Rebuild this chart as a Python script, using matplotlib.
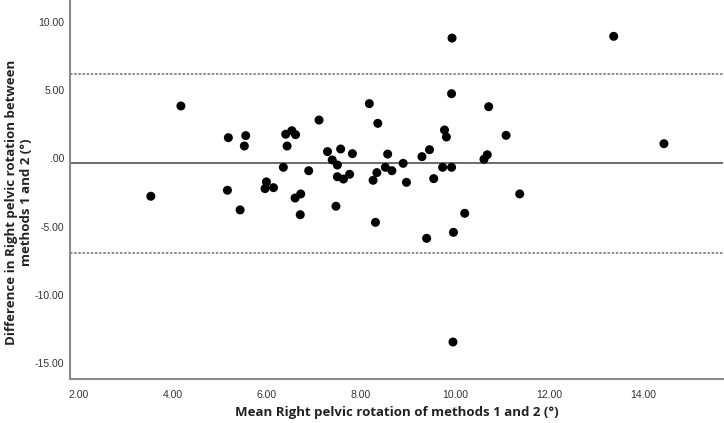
import matplotlib

matplotlib.use("Agg")
import matplotlib.pyplot as plt
from matplotlib.ticker import FuncFormatter

# Bland-Altman data
mean_vals = [3.53, 4.17, 5.16, 5.18, 5.43, 5.52, 5.55, 5.99, 5.96, 6.14,
             6.35, 6.40, 6.43, 6.53, 6.61, 6.60, 6.72, 6.71, 6.89, 7.11,
             7.29, 7.39, 7.50, 7.57, 7.50, 7.63, 7.76, 7.82, 7.47, 8.18,
             8.36, 8.26, 8.34, 8.31, 8.57, 8.52, 8.66, 8.90, 8.97, 9.30,
             9.46, 9.55, 9.74, 9.78, 9.82, 9.93, 9.93, 9.94, 9.40, 9.97,
             10.21, 10.62, 10.69, 10.72, 11.09, 11.38, 13.38, 14.45, 9.96]
diff_vals = [-2.78, 3.83, -2.34, 1.51, -3.78, 0.90, 1.66, -1.73, -2.22, -2.15,
             -0.66, 1.76, 0.90, 2.02, 1.73, -2.91, -2.61, -4.13, -0.91, 2.80,
             0.49, -0.12, -0.49, 0.68, -1.35, -1.52, -1.17, 0.34, -3.51, 4.00,
             2.56, -1.61, -1.05, -4.69, 0.31, -0.66, -0.91, -0.37, -1.76, 0.12,
             0.63, -1.49, -0.66, 2.07, 1.56, -0.66, 4.73, 8.80, -5.86, -5.42,
             -4.03, -0.07, 0.26, 3.78, 1.68, -2.61, 8.93, 1.07, -13.45]

mean_diff = -0.34
upper_loa = 6.20
lower_loa = -6.97

x_ticks = [2, 4, 6, 8, 10, 12, 14]
y_ticks = [-15, -10, -5, 0, 5, 10]


def spss_fmt(v, _pos):
    s = f"{v:.2f}"
    if s in ("0.00", "-0.00"):
        return ".00"
    return s


fig = plt.figure(figsize=(7.24, 4.23), dpi=100)
ax = fig.add_axes([70 / 724, 1 - 379 / 423, 652.7 / 724, 379 / 423])

ax.axhline(mean_diff, color="#6b6b6b", linewidth=1.4, zorder=1)
for loa in (upper_loa, lower_loa):
    ax.axhline(loa, color="#7a7a7a", linewidth=1.2, linestyle=(0, (1.5, 1.0)), zorder=1)

ax.scatter(mean_vals, diff_vals, s=42, color="black", edgecolors="none", zorder=3)

ax.set_xlim(1.81, 15.70)
ax.set_ylim(-16.16, 11.59)
ax.set_xticks(x_ticks)
ax.set_yticks(y_ticks)
ax.xaxis.set_major_formatter(FuncFormatter(spss_fmt))
ax.yaxis.set_major_formatter(FuncFormatter(spss_fmt))
ax.tick_params(length=0, labelsize=7.5, labelcolor="#333333")
ax.tick_params(axis="x", pad=8)
ax.tick_params(axis="y", pad=4)
for lab in ax.get_xticklabels() + ax.get_yticklabels():
    lab.set_family("Liberation Sans")

for side in ("top", "right"):
    ax.spines[side].set_visible(False)
for side in ("left", "bottom"):
    ax.spines[side].set_color("#8a8a8a")
    ax.spines[side].set_linewidth(1.5)

ax.set_xlabel("Mean Right pelvic rotation of methods 1 and 2 (°)",
              fontsize=9.5, fontweight="bold", family="Open Sans", color="#222222")
ax.set_ylabel("Difference in Right pelvic rotation between\nmethods 1 and 2 (°)",
              fontsize=9.5, fontweight="bold", family="Open Sans", color="#222222",
              linespacing=1.25)
ax.xaxis.set_label_coords(0.5, -0.07)
ax.yaxis.set_label_coords(-0.056, 0.467)

fig.savefig("out.png", dpi=100)
